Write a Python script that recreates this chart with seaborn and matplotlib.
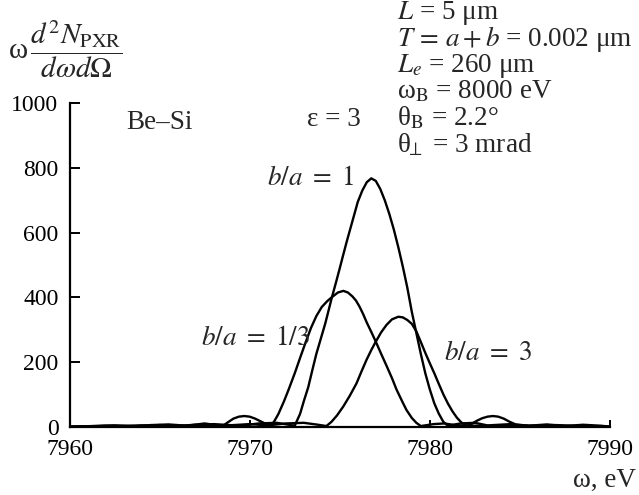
import numpy as np
import pandas as pd
import matplotlib
matplotlib.use("Agg")
import matplotlib.pyplot as plt
import seaborn as sns

# ---- data ----
x_ba1 = [7960, 7962, 7963.5, 7965, 7966.5, 7968, 7969.5, 7970.5, 7971.5, 7972.5,
         7972.8, 7973.0, 7973.25, 7973.5, 7973.7, 7974.0, 7974.2, 7974.55, 7974.8, 7975.0,
         7975.2, 7975.4, 7975.6, 7975.8, 7976.0, 7976.25, 7976.5, 7976.75, 7977.0, 7977.25,
         7977.5, 7977.75, 7978.0, 7978.25, 7978.5, 7978.75, 7979.0, 7979.25, 7979.5, 7979.75,
         7980.0, 7980.25, 7980.5, 7980.75, 7981.0, 7981.7, 7982.5, 7983.2, 7984.5, 7985.5,
         7987, 7988.5, 7990]
y_ba1 = [0, 3, 1, 5, 2, 8, 3, 10, 12, 3,
         40, 78, 122, 180, 225, 282, 320, 397, 448, 490,
         533, 575, 615, 655, 695, 730, 756, 768, 760, 735,
         700, 658, 610, 555, 495, 430, 355, 290, 225, 165,
         115, 72, 40, 15, 3, 10, 12, 4, 8, 3,
         5, 2, 0]

x_ba13 = [7960, 7961.5, 7962.5, 7963.5, 7964.5, 7965.5, 7966.5, 7967.5, 7968.5, 7968.8,
          7969.1, 7969.4, 7969.7, 7970.0, 7970.3, 7970.7, 7971.0, 7971.2, 7971.4, 7971.6,
          7971.9, 7972.15, 7972.5, 7972.8, 7973.1, 7973.4, 7973.7, 7974.0, 7974.3, 7974.55,
          7974.9, 7975.2, 7975.45, 7975.7, 7975.9, 7976.1, 7976.3, 7976.5, 7976.75, 7977.0,
          7977.3, 7977.6, 7977.9, 7978.15, 7978.45, 7978.7, 7979.0, 7979.25, 7979.5, 7980.2,
          7980.8, 7981.5, 7982.5, 7983.5, 7984.5, 7986, 7988, 7990]
y_ba13 = [0, 2, 4, 1, 5, 7, 3, 10, 2, 14,
          25, 31, 33, 31, 25, 14, 6, 3, 20, 40,
          78, 113, 165, 213, 260, 305, 342, 370, 388, 400,
          415, 420, 415, 403, 390, 371, 348, 322, 293, 263,
          225, 188, 150, 115, 80, 52, 27, 12, 2, 8,
          10, 4, 3, 2, 3, 2, 1, 0]

x_ba3 = [7960, 7962, 7964, 7965.5, 7967, 7968.5, 7970, 7971, 7972, 7973,
         7973.8, 7974.26, 7974.54, 7974.85, 7975.19, 7975.55, 7975.93, 7976.2, 7976.48, 7976.75,
         7977.0, 7977.3, 7977.6, 7977.9, 7978.25, 7978.5, 7978.75, 7979.0, 7979.25, 7979.5,
         7979.75, 7980.0, 7980.25, 7980.5, 7980.75, 7981.0, 7981.25, 7981.5, 7981.75, 7982.05,
         7982.3, 7982.6, 7982.9, 7983.2, 7983.5, 7983.8, 7984.1, 7984.4, 7984.8, 7985.5,
         7986.5, 7987.5, 7988.5, 7989.5, 7990]
y_ba3 = [0, 2, 4, 1, 6, 3, 8, 4, 10, 12,
         6, 2, 15, 35, 62, 95, 134, 170, 206, 237,
         263, 292, 315, 332, 340, 338, 330, 318, 295, 262,
         228, 196, 165, 132, 100, 72, 48, 28, 13, 3,
         8, 18, 26, 31, 33, 31, 25, 16, 6, 3,
         7, 2, 6, 3, 0]

x_ticks = [7960, 7970, 7980, 7990]
y_ticks = [0, 200, 400, 600, 800, 1000]

params = [r"$L$ = 5 μm",
          r"$T\,=\,a + b$ = 0.002 μm",
          r"$L_e$ = 260 μm",
          r"ω$_\mathrm{B}$ = 8000 eV",
          r"θ$_\mathrm{B}$ = 2.2°",
          r"θ$_{\!\!\perp}$ = 3 mrad"]

df = pd.concat([
    pd.DataFrame({"omega": x_ba1, "value": y_ba1, "curve": "b/a=1"}),
    pd.DataFrame({"omega": x_ba13, "value": y_ba13, "curve": "b/a=1/3"}),
    pd.DataFrame({"omega": x_ba3, "value": y_ba3, "curve": "b/a=3"}),
], ignore_index=True)

sns.set_style("ticks")
plt.rcParams["font.family"] = ["Liberation Serif", "DejaVu Serif"]
plt.rcParams["mathtext.fontset"] = "stix"

fig = plt.figure(figsize=(6.39, 4.95), dpi=100)
ax = fig.add_axes([0.1088, 0.138, 0.8458, 0.6533])

sns.lineplot(data=df, x="omega", y="value", hue="curve",
             palette={"b/a=1": "black", "b/a=1/3": "black", "b/a=3": "black"},
             estimator=None, legend=False, linewidth=1.7, ax=ax)
for ln in ax.lines:
    ln.set_solid_joinstyle("round")
    ln.set_solid_capstyle("round")

ax.set_xlim(7960, 7990)
ax.set_ylim(0, 1000)
ax.set_xticks(x_ticks)
ax.set_yticks(y_ticks)
ax.set_xlabel("")
ax.set_ylabel("")
for s in ["top", "right"]:
    ax.spines[s].set_visible(False)
for s in ["left", "bottom"]:
    ax.spines[s].set_linewidth(1.6)
    ax.spines[s].set_color("black")
ax.tick_params(axis="both", direction="in", labelsize=17, colors="black", width=1.4)
ax.tick_params(axis="y", length=7, pad=8)
ax.tick_params(axis="x", length=5, pad=9)

fs = 19.5
# annotations inside the plot
ax.text(7965.0, 942, "Be–Si", fontsize=fs, ha="center", va="center")
ax.text(7974.7, 950, "ε = 3", fontsize=fs, ha="center", va="center")
ax.text(7973.4, 768, r"$b/a\ =\ 1$", fontsize=fs, ha="center", va="center")
ax.text(7967.3, 274, r"$b/a\ =\ 1/3$", fontsize=fs, ha="left", va="center")
ax.text(7980.8, 225, r"$b/a\ =\ 3$", fontsize=fs, ha="left", va="center")

# y label (fraction) at top left
fig.text(0.012, 1 - 49 / 495, r"ω$\,\dfrac{d^2N_\mathrm{PXR}}{d\omega d\Omega}$", fontsize=21,
         ha="left", va="center")

# x label
fig.text(0.995, 0.03, "ω, eV", fontsize=fs, ha="right", va="center")

# parameter block
ys = [13, 39.5, 66, 92, 118, 145]
for t, yp in zip(params, ys):
    fig.text(397 / 639, 1 - yp / 495, t, fontsize=fs, ha="left", va="center")

fig.savefig("out.png", dpi=100)
